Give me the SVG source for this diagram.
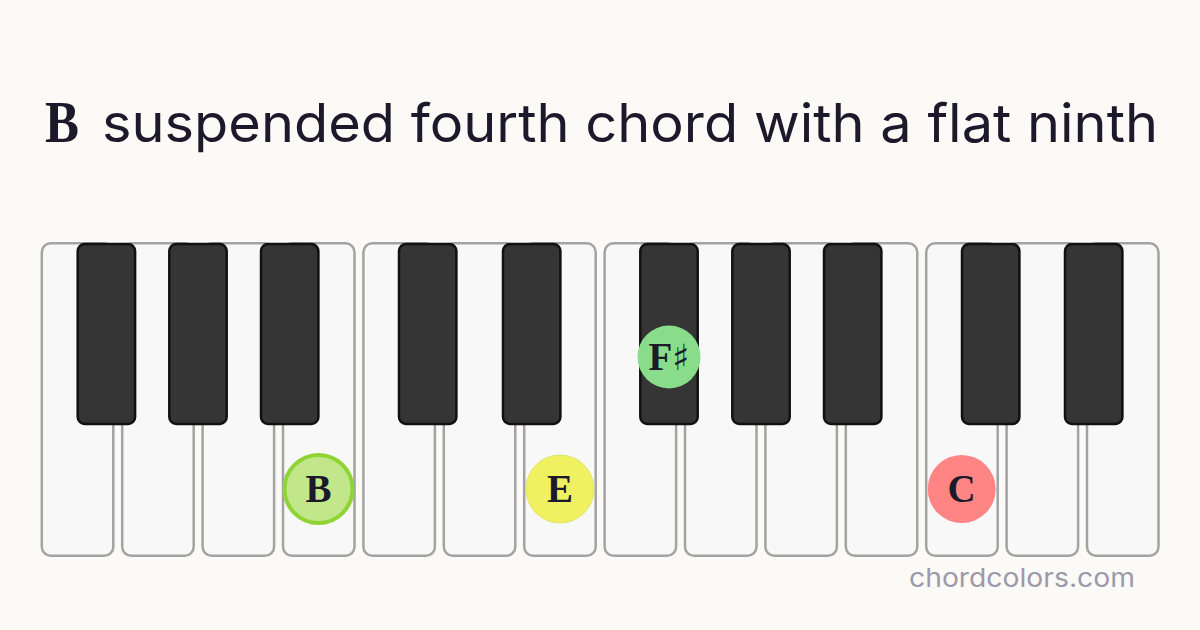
<svg xmlns="http://www.w3.org/2000/svg" width="1200" height="630" viewBox="0 0 1200 630">
  <style>
    .bg { fill: #fbfaf6; }
    .white { fill: #f8f8f8; stroke: #a3a3a3; stroke-width: 2.5; }
    .black { fill: #353535; stroke: #111111; stroke-width: 2.5; }
    .note { font-family: "Liberation Serif", "DejaVu Serif", serif; font-weight: bold; font-size: 39px; fill: #1c1a2a; text-anchor: middle; }
    .title-sans { font-family: Inter, "Open Sans", "DejaVu Sans", sans-serif; font-size: 53px; fill: #1c1a2a; }
    .title-serif { font-family: "Liberation Serif", "DejaVu Serif", serif; font-weight: bold; font-size: 60px; fill: #1c1a2a; }
    .wm { font-family: Inter, "Open Sans", "DejaVu Sans", sans-serif; font-size: 26px; fill: #9b9aaa; }
  </style>
  <rect class="bg" x="0" y="0" width="1200" height="630"/>

  <g id="title">
    <text class="title-serif" x="45" y="142" textLength="34" lengthAdjust="spacingAndGlyphs">B</text>
    <text class="title-sans" x="102" y="142" textLength="1056" lengthAdjust="spacingAndGlyphs">suspended fourth chord with a flat ninth</text>
  </g>

  <g id="white-keys">
    <rect id="wk-F1" class="white" x="41.8" y="243.2" width="71.5" height="312.5" rx="9"/>
    <rect id="wk-G1" class="white" x="122.2" y="243.2" width="71.5" height="312.5" rx="9"/>
    <rect id="wk-A1" class="white" x="202.6" y="243.2" width="71.5" height="312.5" rx="9"/>
    <rect id="wk-B1" class="white" x="283.0" y="243.2" width="71.5" height="312.5" rx="9"/>
    <rect id="wk-C2" class="white" x="363.4" y="243.2" width="71.5" height="312.5" rx="9"/>
    <rect id="wk-D2" class="white" x="443.8" y="243.2" width="71.5" height="312.5" rx="9"/>
    <rect id="wk-E2" class="white" x="524.2" y="243.2" width="71.5" height="312.5" rx="9"/>
    <rect id="wk-F2" class="white" x="604.6" y="243.2" width="71.5" height="312.5" rx="9"/>
    <rect id="wk-G2" class="white" x="685.0" y="243.2" width="71.5" height="312.5" rx="9"/>
    <rect id="wk-A2" class="white" x="765.4" y="243.2" width="71.5" height="312.5" rx="9"/>
    <rect id="wk-B2" class="white" x="845.8" y="243.2" width="71.5" height="312.5" rx="9"/>
    <rect id="wk-C3" class="white" x="926.2" y="243.2" width="71.5" height="312.5" rx="9"/>
    <rect id="wk-D3" class="white" x="1006.6" y="243.2" width="71.5" height="312.5" rx="9"/>
    <rect id="wk-E3" class="white" x="1087.0" y="243.2" width="71.5" height="312.5" rx="9"/>
  </g>

  <g id="black-keys">
    <rect id="bk-Fs1" class="black" x="77.7" y="244" width="57.4" height="180" rx="7"/>
    <rect id="bk-Gs1" class="black" x="169.3" y="244" width="57.4" height="180" rx="7"/>
    <rect id="bk-As1" class="black" x="261.0" y="244" width="57.4" height="180" rx="7"/>
    <rect id="bk-Cs2" class="black" x="399.0" y="244" width="57.4" height="180" rx="7"/>
    <rect id="bk-Ds2" class="black" x="503.0" y="244" width="57.4" height="180" rx="7"/>
    <rect id="bk-Fs2" class="black" x="640.3" y="244" width="57.4" height="180" rx="7"/>
    <rect id="bk-Gs2" class="black" x="732.3" y="244" width="57.4" height="180" rx="7"/>
    <rect id="bk-As2" class="black" x="824.0" y="244" width="57.4" height="180" rx="7"/>
    <rect id="bk-Cs3" class="black" x="962.0" y="244" width="57.4" height="180" rx="7"/>
    <rect id="bk-Ds3" class="black" x="1065.0" y="244" width="57.4" height="180" rx="7"/>
  </g>

  <g id="note-B">
    <circle cx="318.5" cy="489" r="34" fill="#c2e68a" stroke="#8fd435" stroke-width="4"/>
    <text class="note" x="318.5" y="502">B</text>
  </g>
  <g id="note-E">
    <circle cx="560" cy="489" r="34" fill="#eff161" stroke="#e2e36a" stroke-width="1"/>
    <text class="note" x="560" y="502">E</text>
  </g>
  <g id="note-Fsharp">
    <circle cx="669" cy="357" r="31.5" fill="#88dc8a"/>
    <text class="note" x="669" y="370">F<tspan font-size="36" font-family="DejaVu Serif, serif" font-weight="bold">♯</tspan></text>
  </g>
  <g id="note-C">
    <circle cx="961.7" cy="489" r="34" fill="#ff8585"/>
    <text class="note" x="961.7" y="502">C</text>
  </g>

  <g id="connectors"/>

  <text id="watermark" class="wm" x="909" y="587" textLength="226" lengthAdjust="spacingAndGlyphs">chordcolors.com</text>
</svg>
